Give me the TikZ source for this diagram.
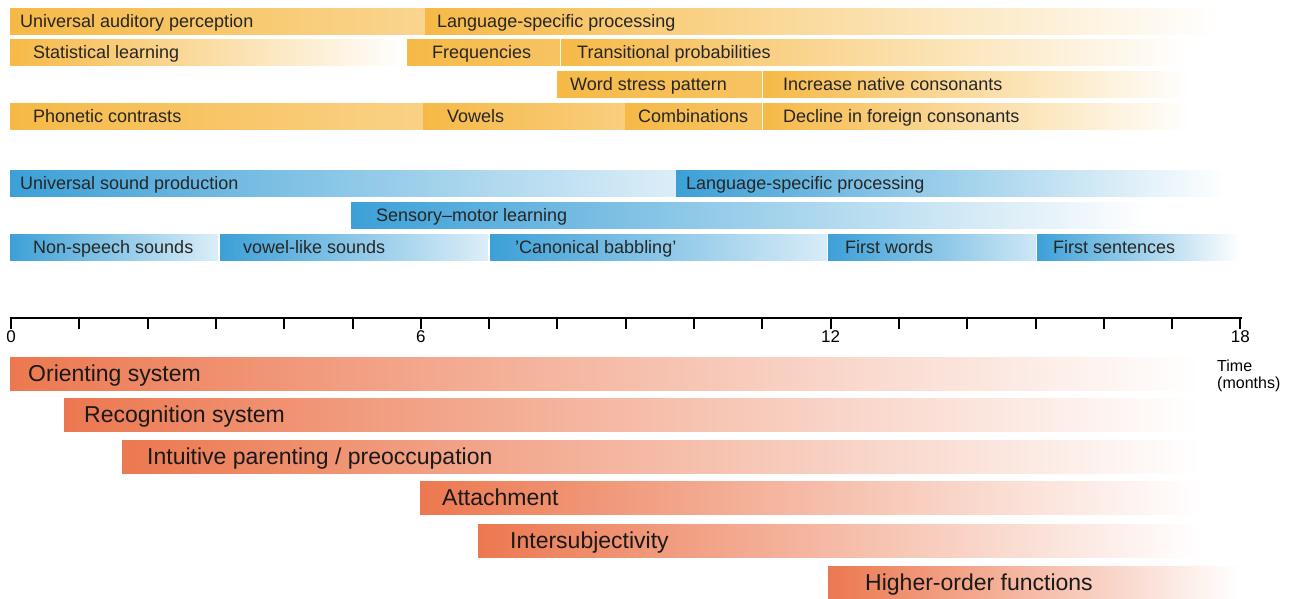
\documentclass[tikz,border=0pt]{standalone}
\usepackage{fontspec}
\setmainfont{Liberation Sans}
\usetikzlibrary{positioning}
\definecolor{percorange}{RGB}{246,185,70}
\definecolor{prodblue}{RGB}{60,160,215}
\definecolor{socialred}{RGB}{236,120,80}
\tikzset{small label/.style={anchor=west,inner sep=0pt,yshift=-1.5pt,text=black!85,font=\fontsize{18}{20}\selectfont,text height=13pt,text depth=4pt}}
\tikzset{big label/.style={anchor=west,inner sep=0pt,yshift=-1.5pt,text=black!90,font=\fontsize{23}{26}\selectfont,text height=16.5pt,text depth=5pt}}
\tikzset{tick label/.style={anchor=north,inner sep=0pt,font=\fontsize{17}{19}\selectfont}}

\begin{document}
\begin{tikzpicture}[x=1pt,y=-1pt]
            \useasboundingbox (0,0) rectangle (1295,598);

            % perception bars
            \foreach \xa/\xb/\yc/\cm/\cb in {10/425/21/percorange!80/percorange!60, 425/1220/21/percorange!55/white,
                10/405/52.5/percorange/white, 407/560/52.5/percorange!95/percorange!85, 561/1190/52.5/percorange!55/white,
                557/762/84/percorange!95/percorange!85, 763/1190/84/percorange!55/white,
                10/423/116/percorange!85/percorange!65, 423/625/116/percorange!85/percorange!70,
                625/762/116/percorange!95/percorange!85, 763/1190/116/percorange!55/white}
            \shade[left color=percorange, middle color=\cm, right color=\cb] (\xa,\yc-13) rectangle (\xb,\yc+13);

            % production bars
            \foreach \xa/\xb/\yc/\cm/\cb in {10/676/183/prodblue!60/prodblue!18, 676/1225/183/prodblue!50/white,
                351/1150/215/prodblue!45/white,
                10/218/247/prodblue!60/prodblue!18, 220/488/247/prodblue!60/prodblue!18, 490/827/247/prodblue!60/prodblue!20,
                828/1036/247/prodblue!60/prodblue!25, 1037/1240/247/prodblue!80/white}
            \shade[left color=prodblue, middle color=\cm, right color=\cb] (\xa,\yc-13) rectangle (\xb,\yc+13);

            % social bars
            \foreach \xa/\xb/\yc/\cm in {10/1200/374/socialred!50, 64/1200/415/socialred!50, 122/1200/457/socialred!50,
                420/1200/498/socialred!50, 478/1200/541/socialred!50, 828/1240/583/socialred!70}
            \shade[left color=socialred, middle color=\cm, right color=white] (\xa,\yc-16.5) rectangle (\xb,\yc+16.5);

            \node[small label] (uap) at (20,21) {Universal auditory perception};
            \node[small label] (lsp) at (437,21) {Language-specific processing};
            \node[small label] (stat) at (33,52.5) {Statistical learning};
            \node[small label] (freq) at (432,52.5) {Frequencies};
            \node[small label] (trans) at (577,52.5) {Transitional probabilities};
            \node[small label] (stress) at (570,84) {Word stress pattern};
            \node[small label] (native) at (783,84) {Increase native consonants};
            \node[small label] (phon) at (33,116) {Phonetic contrasts};
            \node[small label] (vow) at (447,116) {Vowels};
            \node[small label] (comb) at (638,116) {Combinations};
            \node[small label] (foreign) at (783,116) {Decline in foreign consonants};

            \node[small label] (usp) at (20,183) {Universal sound production};
            \node[small label] (lspprod) at (686,183) {Language-specific processing};
            \node[small label] (senso) at (376,215) {Sensory–motor learning};
            \node[small label] (nonspeech) at (33,247) {Non-speech sounds};
            \node[small label] (vowlike) at (243,247) {vowel-like sounds};
            \node[small label] (babble) at (515,247) {'Canonical babbling'};
            \node[small label] (words) at (845,247) {First words};
            \node[small label] (sent) at (1053,247) {First sentences};

            % time axis
            \draw[line width=2.5pt] (10,318) -- (1242,318);
            \foreach \m in {0,...,18}
                \draw[line width=2pt] ({11+68.3*\m},318) -- ++(0,11);
            \foreach \m in {0,6,12,18}
                \node[tick label] (t\m) at ({11+68.3*\m},330) {\m};
            \node[anchor=north west,inner sep=0pt,align=left,font=\fontsize{16}{17}\selectfont] (time) at (1217,360) {Time\\(months)};

            \node[big label] (orient) at (28,374) {Orienting system};
            \node[big label] (recog) at (84,415) {Recognition system};
            \node[big label] (parent) at (147,457) {Intuitive parenting / preoccupation};
            \node[big label] (attach) at (442,498) {Attachment};
            \node[big label] (intersub) at (510,541) {Intersubjectivity};
            \node[big label] (higher) at (865,583) {Higher-order functions};
        \end{tikzpicture}
\end{document}
